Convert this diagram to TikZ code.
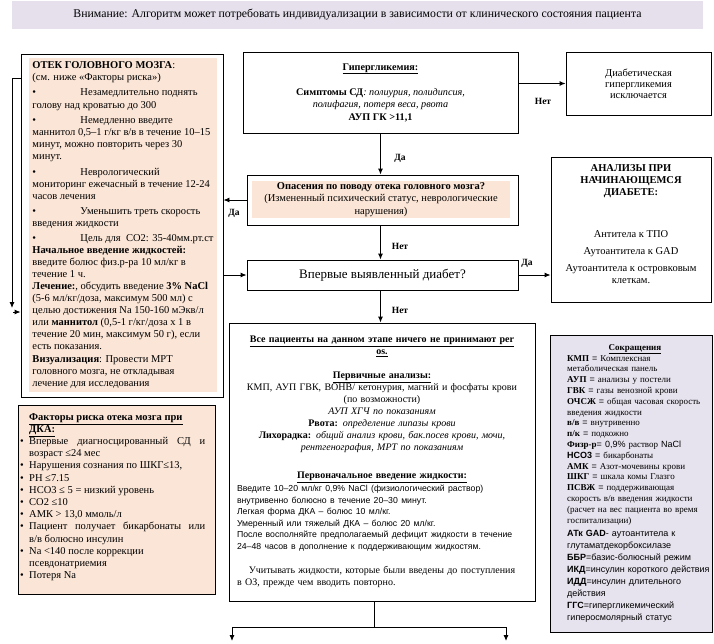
\documentclass[tikz,border=0pt]{standalone}
\usepackage{fontspec}
\setmainfont{Liberation Serif}
\setsansfont{Liberation Sans}
\usetikzlibrary{calc, arrows.meta}
\definecolor{peachfill}{HTML}{FBE5D6}
\definecolor{warnlavender}{HTML}{E5E0EC}
\definecolor{abbrlavender}{HTML}{E7E3EE}
\newcommand{\itembul}{\makebox[48pt][l]{\textbullet}}
\newcommand{\riskbul}{\makebox[9pt][l]{\textbullet}}

\begin{document}
\begin{tikzpicture}[x=1pt, y=-1pt,
            frame/.style = {draw, line width=0.9pt, inner sep=0pt},
            peach/.style = {fill=peachfill, inner sep=0pt},
            answer/.style = {font=\fontsize{9.5}{11}\selectfont\bfseries, inner sep=0pt},
            arr/.style = {line width=0.9pt, -{Latex[length=6pt, width=5pt]}},
            ]
            \useasboundingbox (0,0) rectangle (714,643);

            \node[fill=warnlavender, minimum width=691, minimum height=28, inner sep=0pt, font=\fontsize{11.8}{14}\selectfont] (warning) at (357.5,15) {Внимание: Алгоритм может потребовать индивидуализации в зависимости от клинического состояния пациента};

            \node[frame, minimum width=275, minimum height=81, align=center, font=\fontsize{10.2}{12.5}\selectfont] (hyper) at (380.5,92.5) {\textbf{\underline{Гипергликемия:}}\\[12.5pt]\textbf{Симптомы СД}\textit{: полиурия, полидипсия,}\\\textit{полифагия, потеря веса, рвота}\\\textbf{АУП ГК >11,1}};
            \node[frame, minimum width=145, minimum height=63, align=center, font=\fontsize{10.5}{11}\selectfont] (excl) at (638.5,83.5) {Диабетическая\\гипергликемия\\исключается};

            \node[frame, minimum width=271, minimum height=50] (edemaq) at (382.5,200) {};
            \node[peach, minimum width=258, minimum height=37, align=center, font=\fontsize{10.5}{12.5}\selectfont] (edemaqtext) at (381,199.5) {\textbf{Опасения по поводу отека головного мозга?}\\(Измененный психический статус, неврологические\\нарушения)};

            \node[frame, minimum width=271, minimum height=30, font=\fontsize{13}{15}\selectfont] (newdiab) at (382.5,275) {Впервые выявленный диабет?};

            \node[frame, minimum width=160, minimum height=145] (analysis) at (631,229.5) {};
            \node[anchor=north, align=center, inner sep=0pt, font=\fontsize{10.5}{12}\selectfont] (analysistext) at (631,164) {\textbf{АНАЛИЗЫ ПРИ}\\\textbf{НАЧИНАЮЩЕМСЯ}\\\textbf{ДИАБЕТЕ:}\\[30pt]Антитела к ТПО\\[5pt]Аутоантитела к GAD\\[5pt]Аутоантитела к островковым\\клеткам.};

            \node[frame, minimum width=306, minimum height=278, text width=290, font=\fontsize{10}{12}\selectfont] (all) at (382,462) {\centering
                \textbf{\underline{Все пациенты на данном этапе ничего не принимают per}}\\
                \textbf{\underline{os.}}\\[12pt]
                \textbf{\underline{Первичные анализы:}}\\
                КМП, АУП ГВК, ВОНВ/ кетонурия, магний и фосфаты крови\\
                (по возможности)\\
                \textit{АУП ХГЧ по показаниям}\\
                \textbf{Рвота:} \textit{определение липазы крови}\\
                \textbf{Лихорадка:} \textit{общий анализ крови, бак.посев крови, мочи,}\\
                \textit{рентгенография, МРТ по показаниям}\\[16pt]
                \textbf{\underline{Первоначальное введение жидкости:}}\par
                \vspace{1pt}
                {\raggedright\sffamily\fontsize{8.7}{11.6}\selectfont
                Введите 10–20 мл/кг 0,9\% NaCl (физиологический раствор)\\
                внутривенно болюсно в течение 20–30 минут.\\
                Легкая форма ДКА – болюс 10 мл/кг.\\
                Умеренный или тяжелый ДКА – болюс 20 мл/кг.\\
                После восполняйте предполагаемый дефицит жидкости в течение\\
                24–48 часов в дополнение к поддерживающим жидкостям.\par}
                \vspace{12pt}
                \noindent Учитывать жидкости, которые были введены до поступления\\
                в ОЗ, прежде чем вводить повторно.};

            \node[frame, minimum width=202, minimum height=343] (edema) at (122,225.5) {};
            \node[peach, minimum width=188, minimum height=334, align=left, font=\fontsize{10.5}{12.1}\selectfont] (edematext) at (123,225) {\textbf{ОТЕК ГОЛОВНОГО МОЗГА}:\\
                (см. ниже «Факторы риска»)\\[3pt]
                \itembul Незамедлительно поднять\\
                голову над кроватью до 300\\[3pt]
                \itembul Немедленно введите\\
                маннитол 0,5–1 г/кг в/в в течение 10–15\\
                минут, можно повторить через 30\\
                минут.\\[4pt]
                \itembul Неврологический\\
                мониторинг ежечасный в течение 12-24\\
                часов лечения\\[3pt]
                \itembul Уменьшить треть скорость\\
                введения жидкости\\[2pt]
                \itembul Цель для~ СО2: 35-40мм.рт.ст\\
                \textbf{Начальное введение жидкостей:}\\
                введите болюс физ.р-ра 10 мл/кг в\\
                течение 1 ч.\\
                \textbf{Лечение:}, обсудить введение \textbf{3\% NaCl}\\
                (5-6 мл/кг/доза, максимум 500 мл) с\\
                целью достижения Na 150-160 мЭкв/л\\
                или \textbf{маннитол} (0,5-1 г/кг/доза х 1 в\\
                течение 20 мин, максимум 50 г), если\\
                есть показания.\\
                \textbf{Визуализация}: Провести МРТ\\
                головного мозга, не откладывая\\
                лечение для исследования};

            \node[frame, fill=peachfill, minimum width=197, minimum height=189] (risk) at (116.5,499.5) {};
            \node[anchor=north west, align=left, inner sep=0pt, font=\fontsize{10.5}{12.2}\selectfont] (risktext) at (20,413) {\hspace*{9pt}\textbf{\underline{Факторы риска отека мозга при}}\\
                \hspace*{9pt}\textbf{\underline{ДКА:}}\\
                \riskbul\makebox[176pt][s]{Впервые диагносцированный СД и}\\
                \hspace*{9pt}возраст ≤24 мес\\
                \riskbul Нарушения сознания по ШКГ≤13,\\
                \riskbul PH ≤7.15\\
                \riskbul HCO3 ≤ 5 = низкий уровень\\
                \riskbul CO2 ≤10\\
                \riskbul АМК > 13,0 ммоль/л\\
                \riskbul\makebox[176pt][s]{Пациент получает бикарбонаты или}\\
                \hspace*{9pt}в/в болюсно инсулин\\
                \riskbul Na <140 после коррекции\\
                \hspace*{9pt}псевдонатриемия\\
                \riskbul Потеря Na};

            \node[frame, fill=abbrlavender, minimum width=162, minimum height=297] (abbr) at (631,483.5) {};
            \node[font=\fontsize{9}{11}\selectfont\bfseries, inner sep=0pt] (abbrtitle) at (635,349) {\underline{Сокращения}};
            \node[anchor=north west, inner sep=0pt, text width=150, align=left, font=\fontsize{9}{10.8}\selectfont] (abbrtext) at (567,355) {\textbf{КМП} {\sffamily =} Комплексная\\
                метаболическая панель\\
                \textbf{АУП} {\sffamily =} анализы у постели\\
                \textbf{ГВК} {\sffamily =} газы венозной крови\\
                \textbf{ОЧСЖ} {\sffamily =} общая часовая скорость\\
                введения жидкости\\
                \textbf{в/в} {\sffamily =} внутривенно\\
                \textbf{п/к} {\sffamily =} подкожно\\
                \textbf{Физр-р}{\sffamily = 0,9\%} раствор {\sffamily NaCl}\\
                {\sffamily\bfseries HCO3} {\sffamily =} бикарбонаты\\
                \textbf{АМК} {\sffamily =} Азот-мочевины крови\\
                \textbf{ШКГ} {\sffamily =} шкала комы Глазго\\
                \textbf{ПСВЖ} {\sffamily =} поддерживающая\\
                скорость в/в введения жидкости\\
                (расчет на вес пациента во время\\
                госпитализации)\par
                \vspace{1.5pt}
                {\sffamily\fontsize{9}{12}\selectfont
                \textbf{АТк GAD}- аутоантитела к\\
                глутаматдекорбоксилазе\\
                \textbf{ББР}=базис-болюсный режим\\
                \textbf{ИКД}=инсулин короткого действия\\
                \textbf{ИДД}=инсулин длительного\\
                действия\\
                \textbf{ГГС}=гипергликемический\\
                гиперосмолярный статус\par}};

            \coordinate (loopstart) at (12,78);
            \coordinate (loopend) at (12,308);
            \coordinate (loopin) at (13,312);
            \coordinate (split) at (374,627);
            \coordinate (outleft) at (232,641);
            \coordinate (outright) at (506,641);

            \draw[arr] (hyper.south) -- (hyper.south |- edemaq.north);
            \node[answer] (yes1) at (400,158) {Да};
            \draw[arr] (hyper.east |- excl.west) -- (excl.west);
            \node[answer] (no1) at (543,101) {Нет};
            \draw[arr] (edemaq.west) -- (edemaq.west -| edema.east);
            \node[answer] (yes2) at (234,213) {Да};
            \draw[arr] (hyper.south |- edemaq.south) -- (hyper.south |- newdiab.north);
            \node[answer] (no2) at (400,246) {Нет};
            \draw[arr] (edema.east |- newdiab.west) -- (newdiab.west);
            \draw[arr] (newdiab.east) -- (newdiab.east -| analysis.west);
            \node[answer] (yes3) at (527,263) {Да};
            \draw[arr] (hyper.south |- newdiab.south) -- (hyper.south |- all.north);
            \node[answer] (no3) at (400,310) {Нет};
            \draw[arr] (edema.west |- loopstart) -- (loopstart) -- (loopend);
            \draw[arr] (loopin) -- (edema.west |- loopin);
            \draw[line width=0.9pt] (all.south -| split) -- (split);
            \draw[arr] (split) -| (outleft);
            \draw[arr] (split) -| (outright);

        \end{tikzpicture}
\end{document}
